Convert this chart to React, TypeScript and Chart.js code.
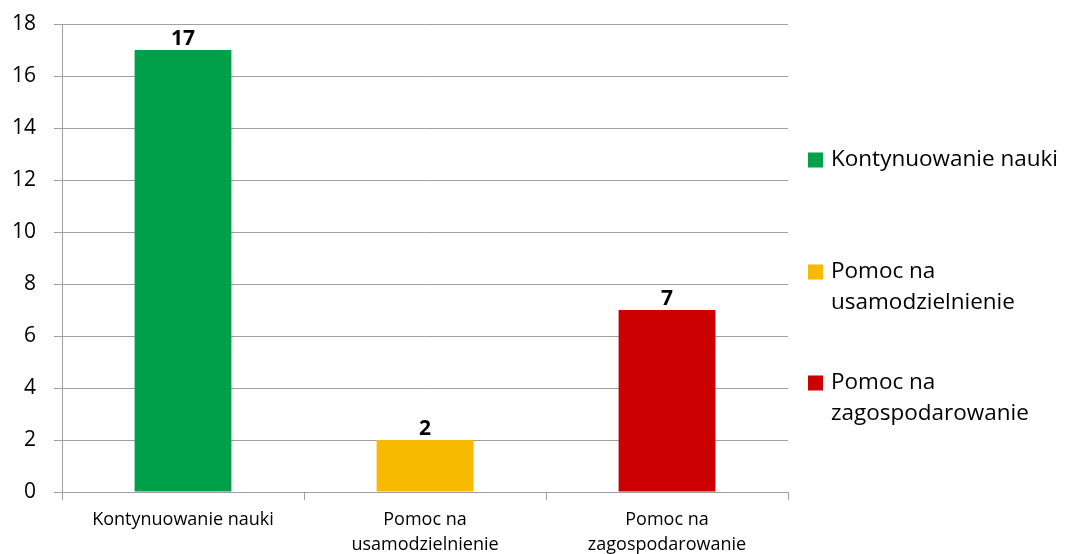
import React, { useEffect, useRef } from "react";
import { Chart, registerables } from "chart.js";

Chart.register(...registerables);

const categories: string[][] = [
  ["Kontynuowanie nauki"],
  ["Pomoc na", "usamodzielnienie"],
  ["Pomoc na", "zagospodarowanie"],
];
const values: number[] = [17, 2, 7];
const yTicks: number[] = [0, 2, 4, 6, 8, 10, 12, 14, 16, 18];

const COLORS = ["#00A04A", "#F7BA00", "#CC0000"];
const FONT = "'Open Sans', 'Noto Sans', sans-serif";

const dataLabelPlugin = {
  id: "dataLabels",
  afterDatasetsDraw(chart: any) {
    const ctx = chart.ctx;
    const meta = chart.getDatasetMeta(0);
    ctx.save();
    ctx.font = `bold 21px ${FONT}`;
    ctx.fillStyle = "#000";
    ctx.textAlign = "center";
    ctx.textBaseline = "alphabetic";
    meta.data.forEach((el: any, i: number) => {
      ctx.fillText(String(chart.data.datasets[0].data[i]), el.x, el.y - 5);
    });
    ctx.restore();
  },
};

const legendPlugin = {
  id: "sideLegend",
  afterDraw(chart: any) {
    const ctx = chart.ctx;
    const labels: string[][] = chart.data.labels;
    const colors: string[] = chart.data.datasets[0].backgroundColor;
    const x0 = chart.chartArea.right + 20;
    const lineH = 31;
    const starts = [160, 272, 383];
    ctx.save();
    ctx.font = `22.5px ${FONT}`;
    ctx.textAlign = "left";
    ctx.textBaseline = "middle";
    labels.forEach((lines, i) => {
      const y = starts[i];
      ctx.fillStyle = colors[i];
      ctx.fillRect(x0, y - 7.5, 15, 15);
      ctx.fillStyle = "#000";
      lines.forEach((ln, j) => {
        ctx.fillText(ln, x0 + 23, y + j * lineH);
      });
    });
    ctx.restore();
  },
};

export default function App() {
  const ref = useRef<HTMLCanvasElement | null>(null);
  useEffect(() => {
    document.body.style.margin = "0";
    if (!ref.current) return;
    const chart = new Chart(ref.current, {
      type: "bar",
      data: {
        labels: categories as any,
        datasets: [
          {
            data: values,
            backgroundColor: COLORS,
            barPercentage: 0.8,
            categoryPercentage: 0.5,
          },
        ],
      },
      options: {
        responsive: false,
        animation: false,
        layout: { padding: { top: 24, right: 279, left: 0, bottom: 0 } },
        plugins: {
          legend: { display: false },
          tooltip: { enabled: false },
        },
        scales: {
          x: {
            afterFit: (s: any) => {
              s.height = 62;
              s.paddingLeft = 0;
              s.paddingRight = 0;
            },
            grid: {
              display: true,
              drawOnChartArea: false,
              drawTicks: true,
              tickLength: 8,
              color: "#A0A0A0",
              offset: true,
            },
            border: { display: true, color: "#A0A0A0", width: 1 },
            ticks: {
              color: "#000",
              font: { family: FONT, size: 18, lineHeight: 25 / 18 },
              padding: 7,
              maxRotation: 0,
              autoSkip: false,
            },
          },
          y: {
            min: 0,
            max: 18,
            afterFit: (s: any) => {
              s.width = 62;
              s.paddingTop = 0;
              s.paddingBottom = 0;
            },
            afterBuildTicks: (s: any) => {
              s.ticks = yTicks.map((v) => ({ value: v }));
            },
            grid: {
              color: "#A0A0A0",
              tickLength: 8,
              lineWidth: 1,
            },
            border: { display: true, color: "#A0A0A0", width: 1 },
            ticks: {
              color: "#000",
              font: { family: FONT, size: 21 },
              padding: 18,
            },
          },
        },
      },
      plugins: [dataLabelPlugin, legendPlugin],
    });
    return () => chart.destroy();
  }, []);
  return (
    <div style={{ width: 1067, height: 554 }}>
      <canvas ref={ref} width={1067} height={554} style={{ display: "block" }} />
    </div>
  );
}
